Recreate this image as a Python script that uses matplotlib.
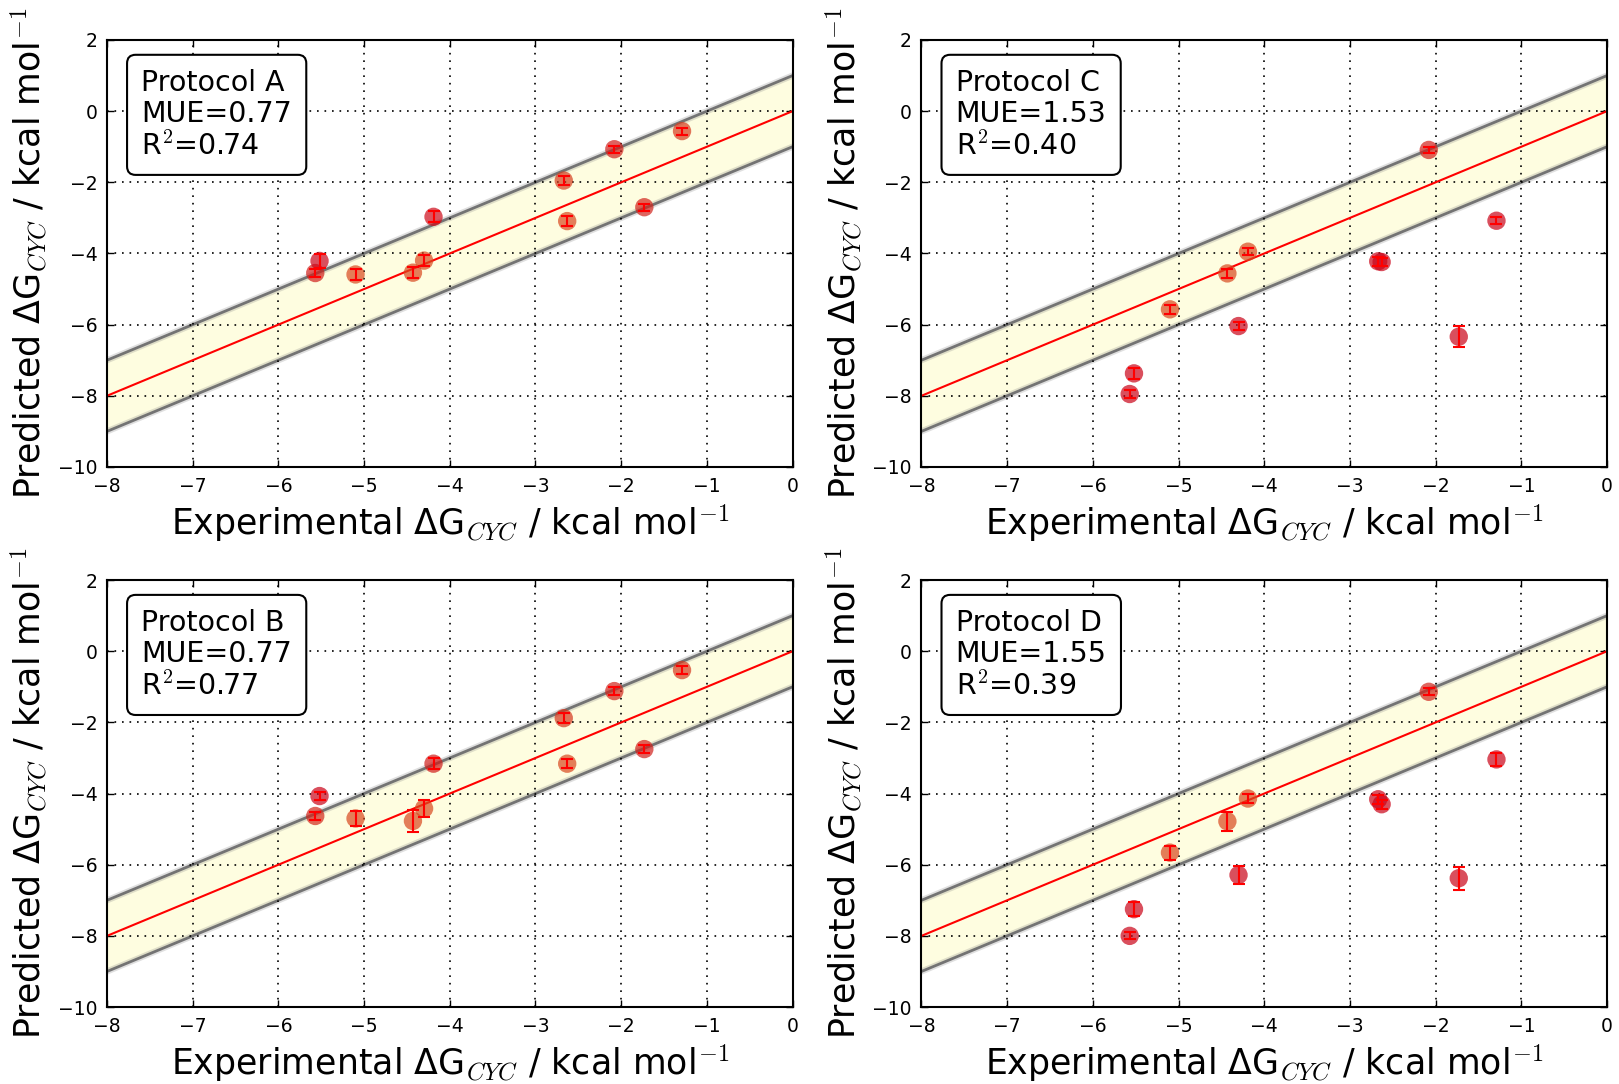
"""Predicted vs experimental cyclisation free energies for four protocols"""

import numpy as np
import matplotlib.pyplot as plt
from matplotlib.colors import LinearSegmentedColormap, Normalize

plt.rcParams['font.family'] = ['DejaVu Sans']
plt.rcParams['mathtext.fontset'] = 'cm'
plt.rcParams['xtick.direction'] = 'in'
plt.rcParams['ytick.direction'] = 'in'
plt.rcParams['xtick.top'] = True
plt.rcParams['ytick.right'] = True
plt.rcParams['xtick.major.size'] = 5
plt.rcParams['ytick.major.size'] = 5
plt.rcParams['xtick.major.pad'] = 7
plt.rcParams['ytick.major.pad'] = 7

# experimental values (shared by all protocols)
expt = [-5.57, -5.52, -5.10, -4.43, -4.30, -4.19, -2.67, -2.63, -2.08, -1.73, -1.29]

pred_a = [-4.55, -4.21, -4.59, -4.54, -4.20, -2.97, -1.95, -3.09, -1.07, -2.70, -0.56]
err_a = [0.12, 0.20, 0.15, 0.15, 0.15, 0.15, 0.12, 0.15, 0.10, 0.10, 0.10]

pred_b = [-4.63, -4.07, -4.70, -4.77, -4.42, -3.16, -1.88, -3.16, -1.12, -2.75, -0.53]
err_b = [0.12, 0.12, 0.20, 0.30, 0.25, 0.15, 0.15, 0.12, 0.12, 0.12, 0.12]

pred_c = [-7.95, -7.37, -5.57, -4.56, -6.04, -3.95, -4.22, -4.24, -1.09, -6.34, -3.08]
err_c = [0.10, 0.15, 0.12, 0.12, 0.10, 0.10, 0.12, 0.12, 0.08, 0.30, 0.10]

pred_d = [-8.00, -7.25, -5.66, -4.78, -6.29, -4.14, -4.16, -4.30, -1.14, -6.38, -3.04]
err_d = [0.10, 0.20, 0.20, 0.27, 0.25, 0.12, 0.12, 0.12, 0.10, 0.32, 0.18]

names = ['Protocol A', 'Protocol B', 'Protocol C', 'Protocol D']
mue = ['0.77', '0.77', '1.53', '1.55']
r2 = ['0.74', '0.77', '0.40', '0.39']

cmap = LinearSegmentedColormap.from_list('err', ['#d8481f', '#ca0419'])
norm = Normalize(0.6, 1.3, clip=True)


def plot_panel(ax, pred, err, name, m, r):
    """Scatter of predicted vs experimental with the +/-1 kcal/mol band"""
    line = np.array([-8., 0.])
    ax.fill_between(line, line - 1, line + 1, color='#fefde0', zorder=1, lw=0)
    for off in (-1, 1):
        ax.plot(line, line + off, color='0.5', lw=4.5, alpha=0.25, zorder=1.2)
        ax.plot(line, line + off, color='0.45', lw=2, zorder=1.3)
    ax.plot(line, line, color='red', lw=1.5, zorder=2)

    dev = np.abs(np.array(pred) - np.array(expt))
    ax.scatter(expt, pred, s=175, c=dev, cmap=cmap, norm=norm,
               alpha=0.7, edgecolors='none', zorder=3)
    ax.errorbar(expt, pred, yerr=err, fmt='none', ecolor='red',
                elinewidth=1.5, capsize=4, capthick=1.5, zorder=4)

    ax.set_xlim(-8, 0)
    ax.set_ylim(-10, 2)
    ax.set_xticks(np.arange(-8, 1, 1))
    ax.set_yticks(np.arange(-10, 3, 2))
    ax.tick_params(labelsize=13.5, width=1)
    ax.grid(True, color='black', linestyle=(0, (1, 3.5)), lw=1.2)
    for sp in ax.spines.values():
        sp.set_linewidth(1.5)

    ax.set_xlabel('Experimental ΔG$_{CYC}$ / kcal mol$^{-1}$', fontsize=25,
                  labelpad=5)
    ax.set_ylabel('Predicted ΔG$_{CYC}$ / kcal mol$^{-1}$', fontsize=25,
                  labelpad=6)

    ax.text(0.05, 0.932, name + '\nMUE=' + m + '\nR$^2$=' + r,
            transform=ax.transAxes, fontsize=20.5, va='top', ha='left',
            linespacing=1.15, zorder=6,
            bbox=dict(boxstyle='round,pad=0.5,rounding_size=0.3',
                      facecolor='white', edgecolor='black', lw=1.5))


fig, axes = plt.subplots(2, 2, figsize=(16.19, 10.84), dpi=100)
fig.subplots_adjust(left=0.0661, right=0.9926, top=0.9631, bottom=0.071,
                    wspace=0.188, hspace=0.265)

plot_panel(axes[0, 0], pred_a, err_a, names[0], mue[0], r2[0])
plot_panel(axes[1, 0], pred_b, err_b, names[1], mue[1], r2[1])
plot_panel(axes[0, 1], pred_c, err_c, names[2], mue[2], r2[2])
plot_panel(axes[1, 1], pred_d, err_d, names[3], mue[3], r2[3])

fig.savefig('out.png', dpi=100)
